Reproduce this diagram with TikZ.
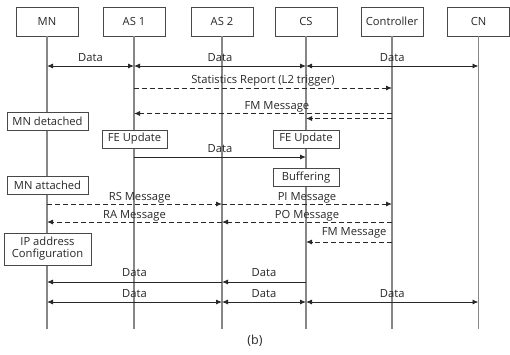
\documentclass[tikz,border=0pt]{standalone}
\usepackage{fontspec}
\setmainfont{Open Sans}
\usetikzlibrary{arrows.meta}
\definecolor{ink}{RGB}{40,40,40}
\definecolor{lifec}{RGB}{135,135,135}
\begin{document}
\begin{tikzpicture}[x=1pt,y=-1pt,
  font=\fontsize{11.2}{12}\selectfont, text=ink,
  head/.style={draw=ink!85, line width=0.8pt, fill=white, minimum width=62pt, minimum height=29pt, inner sep=0pt},
  stat/.style={draw=ink!85, line width=0.8pt, fill=white, minimum height=18pt, inner sep=1pt},
  life/.style={draw=lifec, line width=1.3pt},
  msg/.style={draw=ink, line width=0.9pt},
  dmsg/.style={msg, dash pattern=on 5pt off 3pt},
  tip/.style={-{Latex[length=6pt,width=5pt]}},
  dtip/.style={{Latex[length=6pt,width=5pt]}-{Latex[length=6pt,width=5pt]}},
  lbl/.style={anchor=base, inner sep=0pt, yshift=4.5pt}
]
\useasboundingbox (0,0) rectangle (510,354);

% lifeline bottom
\coordinate (bot) at (0,329);

% headers
\node[head] (MN)  at (47,21.5)  {MN};
\node[head] (AS1) at (134,21.5) {AS 1};
\node[head] (AS2) at (222,21.5) {AS 2};
\node[head] (CS)  at (306,21.5) {CS};
\node[head] (CT)  at (392,21.5) {Controller};
\node[head] (CN)  at (478.5,21.5) {CN};

% lifelines
\foreach \n in {MN,AS1,AS2,CS,CT,CN}
  \draw[life] (\n.south) -- (\n.south |- bot);

% row coordinates
\coordinate (r1) at (0,66);
\coordinate (r2) at (0,88);
\coordinate (r3) at (0,113.5);
\coordinate (r4) at (0,118.5);
\coordinate (r5) at (0,157);
\coordinate (r6) at (0,204);
\coordinate (r7) at (0,222);
\coordinate (r8) at (0,242);
\coordinate (r9) at (0,282);
\coordinate (r10) at (0,302);

% row 1: data
\draw[msg,dtip] (MN |- r1) -- node[lbl] {Data} (AS1 |- r1);
\draw[msg,dtip] (AS1 |- r1) -- node[lbl] {Data} (CS |- r1);
\draw[msg,dtip] (CS |- r1) -- node[lbl] {Data} (CN |- r1);

% statistics report
\draw[dmsg,tip] (AS1 |- r2) -- node[lbl] {Statistics Report (L2 trigger)} (CT |- r2);

% FM message
\draw[dmsg,tip] (CT |- r3) -- node[lbl, pos=0.446] {FM Message} (AS1 |- r3);
\draw[dmsg,tip] (CT |- r4) -- (CS |- r4);

% state boxes
\node[stat, minimum width=81pt] (det) at (47.5,121.5) {MN detached};
\node[stat, minimum width=65pt] (fe1) at (134.5,139) {FE Update};
\node[stat, minimum width=66pt] (fe2) at (306,139) {FE Update};

\draw[msg,tip] (AS1 |- r5) -- node[lbl, yshift=0.5pt] {Data} (CS |- r5);

\node[stat, minimum width=81pt] (att) at (47.5,185) {MN attached};
\node[stat, minimum width=66pt] (buf) at (306,177.5) {Buffering};

% RS / PI
\draw[dmsg,tip] (MN |- r6) -- node[lbl, pos=0.53, yshift=-1pt] {RS Message} (AS2 |- r6);
\draw[dmsg,tip] (AS2 |- r6) -- node[lbl, yshift=-1pt] {PI Message} (CT |- r6);

% RA / PO
\draw[dmsg,tip] (AS2 |- r7) -- node[lbl, yshift=-1pt] {RA Message} (MN |- r7);
\draw[dmsg,tip] (CT |- r7) -- node[lbl, yshift=-1pt] {PO Message} (AS2 |- r7);

% FM 2
\draw[dmsg,tip] (CT |- r8) -- node[lbl, pos=0.44, yshift=2.5pt] {FM Message} (CS |- r8);

% IP config
\node[stat, minimum width=87pt, minimum height=32pt, align=center, font=\fontsize{11.2}{12}\selectfont] (ip) at (47.5,249) {IP address\\Configuration};

% data rows
\draw[msg,tip] (AS2 |- r9) -- node[lbl, yshift=1.5pt] {Data} (MN |- r9);
\draw[msg,tip] (CS |- r9) -- node[lbl, yshift=1.5pt] {Data} (AS2 |- r9);

\draw[msg,dtip] (MN |- r10) -- node[lbl, yshift=0.5pt] {Data} (AS2 |- r10);
\draw[msg,dtip] (AS2 |- r10) -- node[lbl, yshift=0.5pt] {Data} (CS |- r10);
\draw[msg,dtip] (CS |- r10) -- node[lbl, yshift=0.5pt] {Data} (CN |- r10);

% caption
\node[font=\fontsize{12.5}{14}\selectfont] (cap) at (255,341) {(b)};
\end{tikzpicture}
\end{document}
